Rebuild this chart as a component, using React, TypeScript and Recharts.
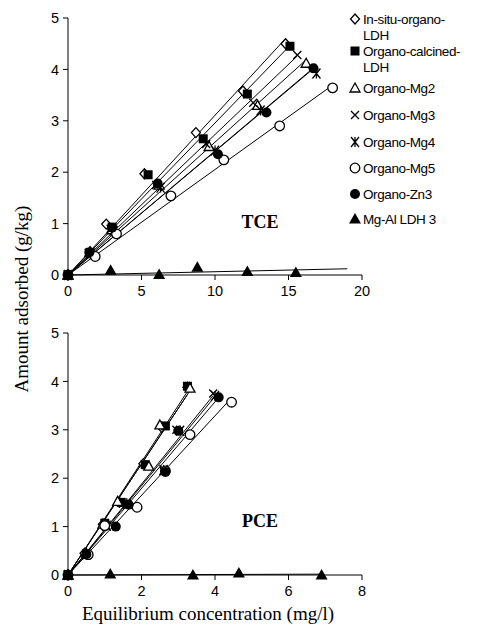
import React from "react";
import { Scatter, ScatterChart, XAxis, YAxis } from "recharts";

type MarkerKind =
  | "diamond"
  | "square"
  | "triangle"
  | "cross"
  | "asterisk"
  | "circle"
  | "dot"
  | "solidTriangle";

// series, in legend order
const seriesNames = [
  "In-situ-organo-LDH",
  "Organo-calcined-LDH",
  "Organo-Mg2",
  "Organo-Mg3",
  "Organo-Mg4",
  "Organo-Mg5",
  "Organo-Zn3",
  "Mg-Al LDH 3",
];
const legendLines = [
  ["In-situ-organo-", "LDH"],
  ["Organo-calcined-", "LDH"],
  ["Organo-Mg2"],
  ["Organo-Mg3"],
  ["Organo-Mg4"],
  ["Organo-Mg5"],
  ["Organo-Zn3"],
  ["Mg-Al LDH 3"],
];
const markerKinds: MarkerKind[] = [
  "diamond",
  "square",
  "triangle",
  "cross",
  "asterisk",
  "circle",
  "dot",
  "solidTriangle",
];

// TCE: equilibrium concentration (mg/l) vs amount adsorbed (g/kg)
const tceInSituX = [0, 1.5, 2.6, 5.2, 8.7, 11.9, 14.8];
const tceInSituY = [0, 0.45, 0.99, 1.97, 2.77, 3.58, 4.5];
const tceCalcinedX = [0, 1.5, 3.0, 5.45, 9.2, 12.2, 15.1];
const tceCalcinedY = [0, 0.44, 0.93, 1.95, 2.65, 3.52, 4.45];
const tceMg2X = [0, 1.5, 3.0, 6.2, 9.6, 12.9, 16.2];
const tceMg2Y = [0, 0.45, 0.88, 1.75, 2.5, 3.3, 4.12];
const tceMg3X = [0, 1.4, 2.9, 6.0, 9.4, 12.6, 15.6];
const tceMg3Y = [0, 0.43, 0.9, 1.75, 2.55, 3.35, 4.28];
const tceMg4X = [0, 1.5, 3.1, 6.3, 10.0, 13.1, 16.9];
const tceMg4Y = [0, 0.42, 0.86, 1.7, 2.42, 3.2, 3.92];
const tceMg5X = [0, 1.85, 3.3, 7.0, 10.6, 14.4, 18.0];
const tceMg5Y = [0, 0.36, 0.8, 1.54, 2.24, 2.9, 3.64];
const tceZn3X = [0, 1.45, 3.0, 6.1, 10.2, 13.5, 16.7];
const tceZn3Y = [0, 0.44, 0.92, 1.78, 2.35, 3.16, 4.02];
const tceMgAlX = [0, 2.9, 6.2, 8.8, 12.2, 15.5];
const tceMgAlY = [0, 0.09, 0.01, 0.15, 0.07, 0.05];
// fitted line ends (mg/l), null = last point
const tceFitEnd = [null, null, null, null, null, null, null, 19];

// PCE
const pceInSituX = [0, 0.45, 0.95, 1.4, 2.05, 2.55, 3.25];
const pceInSituY = [0, 0.45, 1.05, 1.5, 2.3, 3.05, 3.88];
const pceCalcinedX = [0, 0.5, 1.0, 1.45, 2.1, 2.65, 3.25];
const pceCalcinedY = [0, 0.43, 1.07, 1.5, 2.28, 3.08, 3.9];
const pceMg2X = [0, 0.5, 0.95, 1.35, 2.2, 2.5, 3.32];
const pceMg2Y = [0, 0.45, 1.05, 1.52, 2.25, 3.1, 3.86];
const pceMg3X = [0, 0.5, 1.05, 1.6, 2.6, 2.95, 3.95];
const pceMg3Y = [0, 0.42, 1.0, 1.45, 2.15, 3.0, 3.75];
const pceMg4X = [0, 0.5, 1.05, 1.6, 2.6, 3.05, 4.0];
const pceMg4Y = [0, 0.42, 1.02, 1.48, 2.17, 2.98, 3.7];
const pceMg5X = [0, 0.55, 1.0, 1.88, 2.65, 3.32, 4.45];
const pceMg5Y = [0, 0.42, 1.02, 1.4, 2.15, 2.9, 3.57];
const pceZn3X = [0, 0.5, 1.3, 1.65, 2.65, 3.0, 4.1];
const pceZn3Y = [0, 0.43, 1.0, 1.45, 2.13, 2.98, 3.67];
const pceMgAlX = [0, 1.15, 3.4, 4.65, 6.9];
const pceMgAlY = [0, 0.02, 0, 0.04, 0];
const pceFitEnd = [null, null, null, null, null, null, null, 6.9];

const yTicks = [0, 1, 2, 3, 4, 5];
const tceXTicks = [0, 5, 10, 15, 20];
const pceXTicks = [0, 2, 4, 6, 8];

type Pt = { x: number; y: number };

const zip = (xs: number[], ys: number[]): Pt[] => xs.map((x, i) => ({ x, y: ys[i] }));

const tceSeries = [
  zip(tceInSituX, tceInSituY),
  zip(tceCalcinedX, tceCalcinedY),
  zip(tceMg2X, tceMg2Y),
  zip(tceMg3X, tceMg3Y),
  zip(tceMg4X, tceMg4Y),
  zip(tceMg5X, tceMg5Y),
  zip(tceZn3X, tceZn3Y),
  zip(tceMgAlX, tceMgAlY),
];
const pceSeries = [
  zip(pceInSituX, pceInSituY),
  zip(pceCalcinedX, pceCalcinedY),
  zip(pceMg2X, pceMg2Y),
  zip(pceMg3X, pceMg3Y),
  zip(pceMg4X, pceMg4Y),
  zip(pceMg5X, pceMg5Y),
  zip(pceZn3X, pceZn3Y),
  zip(pceMgAlX, pceMgAlY),
];

// linear fit through the origin
const fitLine = (pts: Pt[], end: number | null): Pt[] => {
  let sxy = 0;
  let sxx = 0;
  pts.forEach((p) => {
    sxy += p.x * p.y;
    sxx += p.x * p.x;
  });
  const k = sxx ? sxy / sxx : 0;
  const xEnd = end ?? Math.max(...pts.map((p) => p.x));
  return [
    { x: 0, y: 0 },
    { x: xEnd, y: k * xEnd },
  ];
};

const Marker = ({ cx, cy, kind }: { cx: number; cy: number; kind: MarkerKind }) => {
  const sw = 1.3;
  switch (kind) {
    case "diamond":
      return (
        <polygon
          points={`${cx},${cy - 5} ${cx + 4.5},${cy} ${cx},${cy + 5} ${cx - 4.5},${cy}`}
          fill="#fff"
          stroke="#000"
          strokeWidth={sw}
        />
      );
    case "square":
      return <rect x={cx - 4.5} y={cy - 4.5} width={9} height={9} fill="#000" />;
    case "triangle":
      return (
        <polygon
          points={`${cx},${cy - 5} ${cx + 5},${cy + 4} ${cx - 5},${cy + 4}`}
          fill="#fff"
          stroke="#000"
          strokeWidth={sw}
        />
      );
    case "solidTriangle":
      return (
        <polygon
          points={`${cx},${cy - 6} ${cx + 6},${cy + 4.5} ${cx - 6},${cy + 4.5}`}
          fill="#000"
        />
      );
    case "cross":
      return (
        <path
          d={`M${cx - 4},${cy - 4}L${cx + 4},${cy + 4}M${cx + 4},${cy - 4}L${cx - 4},${cy + 4}`}
          stroke="#000"
          strokeWidth={sw}
        />
      );
    case "asterisk":
      return (
        <path
          d={`M${cx - 4},${cy - 5}L${cx + 4},${cy + 5}M${cx + 4},${cy - 5}L${cx - 4},${cy + 5}M${cx},${cy - 5}L${cx},${cy + 5}`}
          stroke="#000"
          strokeWidth={sw}
        />
      );
    case "circle":
      return <circle cx={cx} cy={cy} r={4.8} fill="#fff" stroke="#000" strokeWidth={sw} />;
    case "dot":
      return <circle cx={cx} cy={cy} r={5} fill="#000" />;
  }
  return null;
};

const tickStyle = { fill: "#000", fontSize: 14.5, fontFamily: "'Liberation Sans', Arial, sans-serif" };

const Panel = ({
  series,
  fitEnds,
  xDomain,
  xTicks,
  top,
  width,
  plotHeight,
}: {
  series: Pt[][];
  fitEnds: (number | null)[];
  xDomain: [number, number];
  xTicks: number[];
  top: number;
  width: number;
  plotHeight: number;
}) => (
  <div style={{ position: "absolute", left: 0, top }}>
    <ScatterChart
      width={width}
      height={18 + plotHeight + 30}
      margin={{ top: 18, right: 20, bottom: 0, left: 28 }}
    >
      <XAxis
        type="number"
        dataKey="x"
        domain={xDomain}
        ticks={xTicks}
        stroke="#000"
        tickSize={5}
        tickMargin={6}
        tick={tickStyle}
        height={30}
      />
      <YAxis
        type="number"
        dataKey="y"
        domain={[0, 5]}
        ticks={yTicks}
        stroke="#000"
        tickSize={5}
        tickMargin={4}
        tick={tickStyle}
        width={40}
      />
      {series.map((pts, i) => (
        <Scatter
          key={`fit-${i}`}
          name={`${seriesNames[i]} fit`}
          data={fitLine(pts, fitEnds[i])}
          line={{ stroke: "#000", strokeWidth: 1 }}
          shape={() => <g />}
          isAnimationActive={false}
        />
      ))}
      {series.map((pts, i) => (
        <Scatter
          key={`pts-${i}`}
          name={seriesNames[i]}
          data={pts}
          shape={(p: any) => <Marker cx={p.cx} cy={p.cy} kind={markerKinds[i]} />}
          isAnimationActive={false}
        />
      ))}
    </ScatterChart>
  </div>
);

const legendRowY = [
  [19, 35],
  [51, 67],
  [88],
  [115],
  [142],
  [168],
  [194],
  [219],
];

export default function App() {
  return (
    <div
      style={{
        position: "absolute",
        left: 0,
        top: 0,
        width: 478,
        height: 625,
        background: "#fff",
        overflow: "hidden",
      }}
    >
      <Panel
        series={tceSeries}
        fitEnds={tceFitEnd}
        xDomain={[0, 20]}
        xTicks={tceXTicks}
        top={0}
        width={382}
        plotHeight={257}
      />
      <Panel
        series={pceSeries}
        fitEnds={pceFitEnd}
        xDomain={[0, 8]}
        xTicks={pceXTicks}
        top={315}
        width={382}
        plotHeight={242}
      />
      <svg
        width={478}
        height={625}
        style={{ position: "absolute", left: 0, top: 0, pointerEvents: "none" }}
      >
        <text
          x={0}
          y={0}
          transform="translate(28,299) rotate(-90)"
          textAnchor="middle"
          fontFamily="'Liberation Serif', 'Times New Roman', serif"
          fontSize={19}
        >
          Amount adsorbed (g/kg)
        </text>
        <text
          x={208}
          y={620}
          textAnchor="middle"
          fontFamily="'Liberation Serif', 'Times New Roman', serif"
          fontSize={19}
        >
          Equilibrium concentration (mg/l)
        </text>
        <text
          x={260}
          y={228}
          textAnchor="middle"
          fontFamily="'Liberation Serif', 'Times New Roman', serif"
          fontWeight="bold"
          fontSize={18}
        >
          TCE
        </text>
        <text
          x={260}
          y={527}
          textAnchor="middle"
          fontFamily="'Liberation Serif', 'Times New Roman', serif"
          fontWeight="bold"
          fontSize={18}
        >
          PCE
        </text>
        {legendLines.map((lines, i) => (
          <g key={seriesNames[i]}>
            <Marker cx={355} cy={legendRowY[i][0]} kind={markerKinds[i]} />
            {lines.map((t, j) => (
              <text
                key={t}
                x={363}
                y={legendRowY[i][j] + 5}
                fontFamily="'Liberation Sans', Arial, sans-serif"
                fontSize={13.5}
                letterSpacing={-0.4}
              >
                {t}
              </text>
            ))}
          </g>
        ))}
      </svg>
    </div>
  );
}
